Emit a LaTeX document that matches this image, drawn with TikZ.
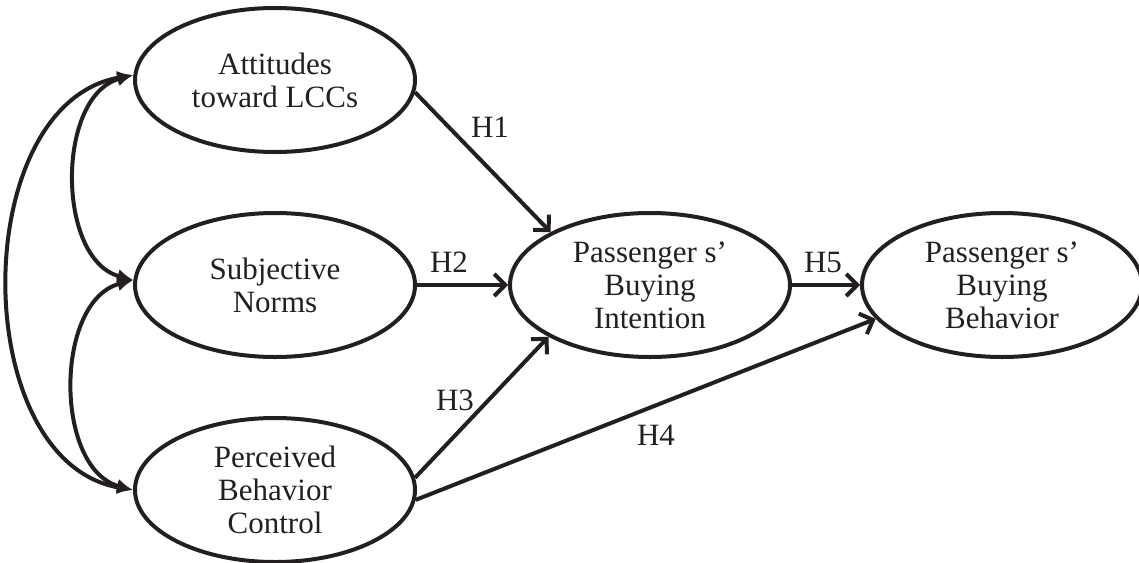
\documentclass[tikz,border=0pt]{standalone}
\usepackage{fontspec}
\setmainfont{Liberation Serif}
\usepackage{tikz}
\usetikzlibrary{arrows.meta, shapes.geometric}

\definecolor{ink}{RGB}{35,31,32}
\tikzset{
  construct/.style={ellipse, draw=ink, line width=2pt, minimum width=140pt, minimum height=72pt,
    inner sep=0pt, align=center, text=ink, font=\fontsize{15.5}{16.5}\selectfont},
  hyp/.style={draw=ink, line width=2pt, -{Straight Barb[length=5.5pt,width=11pt]}},
  cov/.style={draw=ink, line width=2pt, {Latex[length=8pt,width=7pt]}-{Latex[length=8pt,width=7pt]}},
  hlabel/.style={text=ink, font=\fontsize{15.5}{16.5}\selectfont}
}

\begin{document}
\begin{tikzpicture}[x=0.5pt, y=-0.5pt]
\useasboundingbox (0,0) rectangle (1139,562);
% constructs
\node[construct] (att) at (275,80) {Attitudes\\toward LCCs};
\node[construct] (sn) at (275,285) {Subjective\\Norms};
\node[construct] (pbc) at (275,490) {Perceived\\Behavior\\Control};
\node[construct] (bi) at (650,285) {Passenger s’\\Buying\\Intention};
\node[construct] (bb) at (1002,285) {Passenger s’\\Buying\\Behavior};
% correlations
\draw[cov] (att.178) to[out=195, in=165] (sn.178);
\draw[cov] (sn.178) to[out=195, in=165] (pbc.west);
\draw[cov] (att.178) to[out=190, in=170, looseness=1.04] (pbc.west);
% hypotheses
\draw[hyp] (att.-5) -- (bi.152);
\draw[hyp] (sn) -- (bi);
\draw[hyp] (pbc.5) -- (bi.207);
\draw[hyp] (pbc.-4) -- (bb.195);
\draw[hyp] (bi) -- (bb);
\node[hlabel] (h1) at (490,127) {H1};
\node[hlabel] (h2) at (449,262) {H2};
\node[hlabel] (h3) at (455,400) {H3};
\node[hlabel] (h4) at (656,435) {H4};
\node[hlabel] (h5) at (823,262) {H5};
\end{tikzpicture}
\end{document}
